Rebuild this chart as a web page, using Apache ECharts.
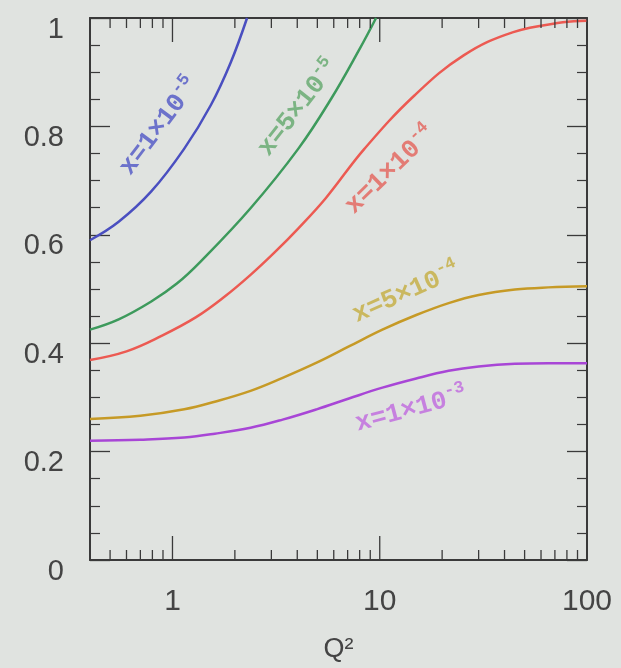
<!DOCTYPE html>
<html>
<head>
<meta charset="utf-8">
<script src="https://cdn.jsdelivr.net/npm/echarts@6/dist/echarts.min.js"></script>
<style>
  html, body { margin: 0; padding: 0; background: #e0e3e0; }
  #chart { width: 621px; height: 668px; }
</style>
</head>
<body>
<div id="chart"></div>
<script>
// Q² sample points and curve values, one pair of arrays per x value
const q2X1e5 = [0.4, 0.55, 0.79, 1.14, 1.53, 1.91, 2.29];
const valX1e5 = [0.59, 0.624, 0.68, 0.759, 0.839, 0.918, 1.0];

const q2X5e5 = [0.4, 0.55, 0.79, 1.05, 1.37, 2.38, 4.05, 5.83, 8.0, 9.6];
const valX5e5 = [0.425, 0.444, 0.477, 0.51, 0.551, 0.649, 0.759, 0.851, 0.943, 1.0];

const q2X1e4 = [0.4, 0.6, 0.88, 1.3, 1.8, 2.38, 3.1, 4.05, 5.5, 8.45, 14.7, 25.4, 44.1, 76.5, 100];
const valX1e4 = [0.369, 0.385, 0.413, 0.448, 0.487, 0.526, 0.567, 0.612, 0.668, 0.759, 0.857, 0.931, 0.974, 0.992, 0.995];

const q2X5e4 = [0.4, 0.7, 1.14, 1.6, 2.38, 3.4, 4.96, 7.1, 10.3, 15, 21.5, 30, 44.9, 65, 100];
const valX5e4 = [0.26, 0.266, 0.278, 0.292, 0.312, 0.336, 0.364, 0.394, 0.425, 0.452, 0.474, 0.489, 0.499, 0.503, 0.505];

const q2X1e3 = [0.4, 0.7, 1.14, 1.6, 2.38, 3.4, 4.96, 7.1, 10.3, 15, 21.5, 30, 44.9, 65, 100];
const valX1e3 = [0.22, 0.222, 0.226, 0.233, 0.244, 0.259, 0.278, 0.298, 0.318, 0.335, 0.349, 0.357, 0.362, 0.363, 0.363];

// curve captions: mantissa, exponent, anchor (Q², value), angle
const captionBase = ['x=1×10', 'x=5×10', 'x=1×10', 'x=5×10', 'x=1×10'];
const captionExp = ['-5', '-5', '-4', '-4', '-3'];
const captionQ2 = [0.85, 3.98, 11.1, 13.3, 14.1];
const captionVal = [0.802, 0.836, 0.722, 0.496, 0.281];
const captionAngle = [53, 52, 44, 24, 15];

// axis ticks
const xMajorTicks = [1, 10, 100];
const xMinorTicks = [0.5, 0.6, 0.7, 0.8, 0.9, 2, 3, 4, 5, 6, 7, 8, 9, 20, 30, 40, 50, 60, 70, 80, 90];
const yTickLabels = ['0', '0.2', '0.4', '0.6', '0.8', '1'];

const lineColors = ['#4a4fc0', '#3d9a5c', '#ec5a52', '#c69a26', '#a846d6'];
const captionColors = ['#4f55c6', '#62a86c', '#e4625a', '#c4ad3e', '#bf68df'];

const curves = [
  [q2X1e5, valX1e5],
  [q2X5e5, valX5e5],
  [q2X1e4, valX1e4],
  [q2X5e4, valX5e4],
  [q2X1e3, valX1e3]
];

const frameColor = '#3a3a3a';
const labelColor = '#444';

function pairs(xs, ys) {
  return xs.map((x, i) => [x, ys[i]]);
}

function isDecade(v) {
  const l = Math.log10(v);
  return Math.abs(l - Math.round(l)) < 1e-6;
}

const lineSeries = curves.map((c, i) => ({
  type: 'line',
  data: pairs(c[0], c[1]),
  smooth: 0.4,
  showSymbol: false,
  lineStyle: { color: lineColors[i], width: 2.5 },
  z: 3
}));

const captionSeries = {
  type: 'scatter',
  symbolSize: 0,
  z: 4,
  data: captionBase.map((b, i) => ({
    value: [captionQ2[i], captionVal[i]],
    label: {
      show: true,
      position: 'inside',
      rotate: captionAngle[i],
      formatter: '{b|' + b + '}{s|' + captionExp[i] + '}',
      rich: {
        b: { fontFamily: 'Liberation Mono', fontSize: 26, fontWeight: 'bold', color: captionColors[i], lineHeight: 30, verticalAlign: 'bottom' },
        s: { fontFamily: 'Liberation Mono', fontSize: 17, fontWeight: 'bold', color: captionColors[i], lineHeight: 18, verticalAlign: 'top' }
      }
    }
  }))
};

// log-axis ticks (decades long, 2..9 short) on the bottom and top edges
const xTickSeries = {
  type: 'custom',
  silent: true,
  z: 5,
  data: xMajorTicks.map(v => [v, 24]).concat(xMinorTicks.map(v => [v, 10])),
  renderItem: function (params, api) {
    const v = api.value(0);
    const len = api.value(1);
    const b = api.coord([v, 0]);
    const t = api.coord([v, 1]);
    const style = { stroke: frameColor, lineWidth: 1.3 };
    return {
      type: 'group',
      children: [
        { type: 'line', shape: { x1: b[0], y1: b[1], x2: b[0], y2: b[1] - len }, style: style },
        { type: 'line', shape: { x1: t[0], y1: t[1], x2: t[0], y2: t[1] + len }, style: style }
      ]
    };
  }
};

const xAxisCommon = {
  type: 'log',
  logBase: 10,
  min: 0.4,
  max: 100,
  axisLine: { show: true, onZero: false, lineStyle: { color: frameColor, width: 2 } },
  axisTick: { show: false },
  splitLine: { show: false },
  minorTick: { show: false },
  minorSplitLine: { show: false }
};

const yAxisCommon = {
  type: 'value',
  min: 0,
  max: 1,
  interval: 0.2,
  axisLine: { show: true, onZero: false, lineStyle: { color: frameColor, width: 2 } },
  axisTick: { show: true, inside: true, length: 20, lineStyle: { color: frameColor, width: 1.3 } },
  minorTick: { show: true, splitNumber: 4, length: 10, lineStyle: { color: frameColor, width: 1.2 } },
  splitLine: { show: false }
};

const chart = echarts.init(document.getElementById('chart'), null, { renderer: 'canvas' });
chart.setOption({
  animation: false,
  backgroundColor: '#e0e3e0',
  grid: { left: 90, right: 34, top: 18, bottom: 105 },
  xAxis: [
    Object.assign({}, xAxisCommon, {
      position: 'bottom',
      name: 'Q²',
      nameLocation: 'middle',
      nameGap: 76,
      nameTextStyle: { fontFamily: 'Liberation Sans', fontSize: 27, color: labelColor },
      axisLabel: {
        show: true,
        margin: 27,
        fontFamily: 'Liberation Sans',
        fontSize: 30,
        color: labelColor,
        formatter: v => (isDecade(v) && xMajorTicks.indexOf(Math.round(v)) >= 0 ? String(Math.round(v)) : '')
      }
    }),
    Object.assign({}, xAxisCommon, {
      position: 'top',
      axisLabel: { show: false }
    })
  ],
  yAxis: [
    Object.assign({}, yAxisCommon, {
      position: 'left',
      axisLabel: {
        show: true,
        margin: 26,
        fontFamily: 'Liberation Sans',
        fontSize: 29,
        color: labelColor,
        verticalAlign: 'top',
        lineHeight: 23,
        formatter: v => yTickLabels[Math.round(v / 0.2)]
      }
    }),
    Object.assign({}, yAxisCommon, {
      position: 'right',
      axisLabel: { show: false }
    })
  ],
  series: lineSeries.concat([captionSeries, xTickSeries])
});
</script>
</body>
</html>
